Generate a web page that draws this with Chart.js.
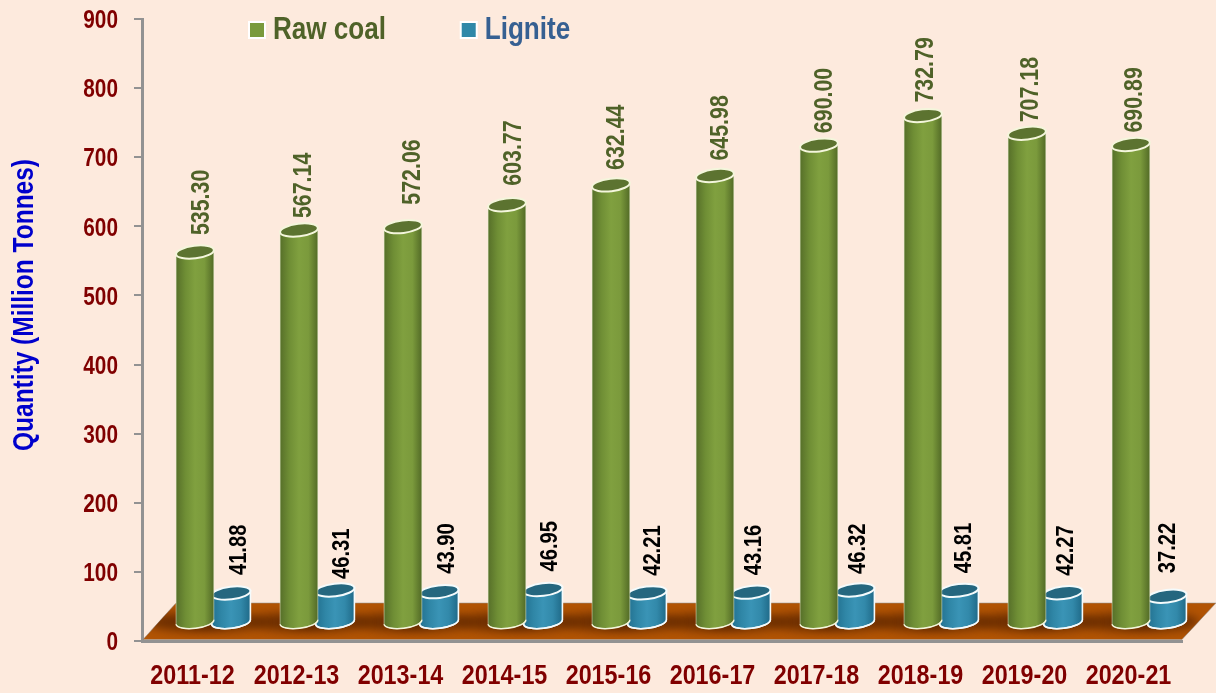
<!DOCTYPE html>
<html><head><meta charset="utf-8">
<style>html,body{margin:0;padding:0;background:#fdeadd}canvas{display:block}</style>
<script src="https://cdn.jsdelivr.net/npm/chart.js@4"></script>
</head><body><div style="width:1216px;height:693px"><canvas id="c" width="1216" height="693"></canvas></div>
<script>
const categories=['2011-12','2012-13','2013-14','2014-15','2015-16','2016-17','2017-18','2018-19','2019-20','2020-21'];
const rawCoal=[535.30,567.14,572.06,603.77,632.44,645.98,690.00,732.79,707.18,690.89];
const lignite=[41.88,46.31,43.90,46.95,42.21,43.16,46.32,45.81,42.27,37.22];
const yTicks=[0,100,200,300,400,500,600,700,800,900];

// hand placement of the value labels, as in the original
const labelDx=[[7,5,10,7,6,6,6,3,4,4],[8.5,7.5,8,7,6.5,3,3,5,3,1]];
const labelGap=[[17,12,22,19,15,15,12,13,11,12],[18,11,18,18,17,17,16,17,17,23]];

const FONT="'Liberation Sans',Arial,sans-serif";
const SHIFT_X=19, TILT=-0.12, RY=6.3, WIDTH=38;

// the original uses a narrow face: condense the installed Liberation Sans per font size
const NARROW={26:.8,26.5:.806,24:.84,27:.865,30:.816,32:.815};
const NUDGE={'Quantity (Million Tonnes)':25,'Raw coal':-8,'Lignite':-8};
const canvas=document.getElementById('c');
const c2d=canvas.getContext('2d');
const rawFill=c2d.fillText;
c2d.fillText=function(t,x,y){
  const m=/([\d.]+)px/.exec(this.font), px=m?parseFloat(m[1]):0, k=NARROW[px]||1;
  this.save();
  this.translate(x+(NUDGE[t]||0),y+(px===26?2:0));
  this.scale(k,1);
  rawFill.call(this,t,0,0);
  this.restore();
};

function sideGrad(ctx,x0,x1,stops){
  const g=ctx.createLinearGradient(x0,0,x1,0);
  stops.forEach((c,i)=>g.addColorStop(i/(stops.length-1),c));
  return g;
}
const looks=[
 {side:['#566f29','#6f8e35','#80a03f','#7b9a3c','#526a26'],top:'#5c7330',rim:'#f4f6dc',edge:'rgba(240,245,215,.5)',label:'#4f6228',font:'26.5px'},
 {side:['#22708f','#2f86a6','#3a94b6','#3289aa','#1f6987'],top:'#25677f',rim:'#f4fbfc',edge:'#f4fbfc',label:'#000000',font:'24px'}
];
const cylinders={
  id:'cylinders',
  beforeLayout(chart){
    const l=chart.legend;
    if(!l._flat){const f=l.fit;l.fit=function(){f.call(this);this.height=0;};l._flat=true;}
  },
  afterLayout(chart){
    const l=chart.legend;
    l.left=208;l.top=-27;l.right=800;l.bottom=60;
  },
  beforeDatasetsDraw(chart){
    const {ctx}=chart;
    ctx.save();
    ctx.beginPath();
    ctx.moveTo(143,639.5);ctx.lineTo(176,603);ctx.lineTo(1216,603);ctx.lineTo(1182,639.5);ctx.closePath();
    ctx.fillStyle='#b25404';ctx.fill();
    ctx.strokeStyle='rgba(146,146,146,.55)';ctx.lineWidth=1;ctx.stroke();
    ctx.clip();
    ctx.filter='blur(5px)';
    ctx.fillStyle='rgba(92,38,0,.8)';
    chart.data.datasets.forEach((ds,i)=>{
      chart.getDatasetMeta(i).data.forEach(bar=>{
        ctx.beginPath();
        ctx.ellipse(bar.x+SHIFT_X-8,bar.base,40,9,0,0,Math.PI*2);
        ctx.fill();
      });
    });
    ctx.filter='none';
    ctx.restore();
  },
  beforeDatasetDraw(chart,args){
    const {ctx}=chart, look=looks[args.index];
    args.meta.data.forEach(bar=>{
      const cx=bar.x+SHIFT_X, top=bar.y, base=bar.base, rx=WIDTH/2+(args.index?0.5:0);
      const ex=rx*Math.cos(TILT), ey=rx*Math.sin(TILT);
      ctx.save();
      ctx.beginPath();
      ctx.moveTo(cx-ex,top-ey);
      ctx.lineTo(cx-ex,base-ey);
      ctx.ellipse(cx,base,rx,RY,TILT,Math.PI,0,true);
      ctx.lineTo(cx+ex,top+ey);
      ctx.closePath();
      ctx.fillStyle=sideGrad(ctx,cx-rx,cx+rx,look.side);
      ctx.fill();
      ctx.lineWidth=args.index?1.6:1;
      ctx.strokeStyle=look.edge;
      ctx.stroke();
      ctx.beginPath();
      ctx.ellipse(cx,base,rx,RY,TILT,Math.PI,0,true);
      ctx.strokeStyle=look.rim;ctx.lineWidth=1.5;ctx.stroke();
      ctx.beginPath();
      ctx.ellipse(cx,top,rx,RY,TILT,0,Math.PI*2);
      ctx.fillStyle=look.top;ctx.fill();
      ctx.strokeStyle=look.rim;ctx.lineWidth=2;ctx.stroke();
      ctx.restore();
    });
    return false;
  },
  afterDatasetsDraw(chart){
    const {ctx}=chart;
    chart.data.datasets.forEach((ds,i)=>{
      chart.getDatasetMeta(i).data.forEach((bar,j)=>{
        ctx.save();
        ctx.translate(bar.x+SHIFT_X+labelDx[i][j],bar.y-labelGap[i][j]);
        ctx.rotate(-Math.PI/2);
        ctx.font="bold "+looks[i].font+" "+FONT;
        ctx.fillStyle=looks[i].label;
        ctx.textAlign='left';ctx.textBaseline='middle';
        ctx.fillText(ds.data[j].toFixed(2),0,0);
        ctx.restore();
      });
    });
  }
};
new Chart(canvas,{
  type:'bar',
  data:{labels:categories,datasets:[
    {label:'Raw coal',data:rawCoal,yAxisID:'yBars',backgroundColor:'#7a9a3c',borderColor:'#ffffff',borderWidth:2,clip:false,barPercentage:1,categoryPercentage:.694},
    {label:'Lignite',data:lignite,yAxisID:'yBars',backgroundColor:'#2f88a8',borderColor:'#ffffff',borderWidth:2,clip:false,barPercentage:1,categoryPercentage:.694}
  ]},
  options:{
    responsive:false,animation:false,
    layout:{padding:{left:0,top:19,right:34,bottom:0}},
    plugins:{
      tooltip:{enabled:false},
      legend:{position:'top',align:'start',
        labels:{boxWidth:16,boxHeight:16,padding:41,font:{family:FONT,size:32,weight:'bold'},
          generateLabels(chart){
            const tc=['#4f6228','#366092'];
            return chart.data.datasets.map((d,i)=>({text:d.label,fillStyle:d.backgroundColor,strokeStyle:d.borderColor,lineWidth:2,fontColor:tc[i],datasetIndex:i,hidden:false}));
          }}}
    },
    scales:{
      x:{grid:{display:false},border:{color:'#929292',width:3},
        afterFit(s){s.height=52;s.paddingLeft=0;s.paddingRight=0;},
        ticks:{color:'#800000',padding:11,maxRotation:0,autoSkip:false,labelOffset:-1.5,font:{family:FONT,size:27,weight:'bold'}}},
      y:{position:'left',min:0,max:900,
        afterFit(s){s.width=142;s.paddingTop=0;s.paddingBottom=0;},
        afterBuildTicks(s){s.ticks=yTicks.map(v=>({value:v}));},
        border:{color:'#929292',width:3},
        grid:{drawOnChartArea:false,drawTicks:true,tickLength:8,color:'#929292',lineWidth:2},
        ticks:{color:'#800000',padding:16,font:{family:FONT,size:26,weight:'bold'}},
        title:{display:true,text:'Quantity (Million Tonnes)',color:'#0000cc',padding:{top:7,bottom:0},font:{family:FONT,size:30,weight:'bold'}}},
      yBars:{display:false,position:'left',min:-27.5,max:872.5}
    }
  },
  plugins:[cylinders]
});
</script></body></html>
